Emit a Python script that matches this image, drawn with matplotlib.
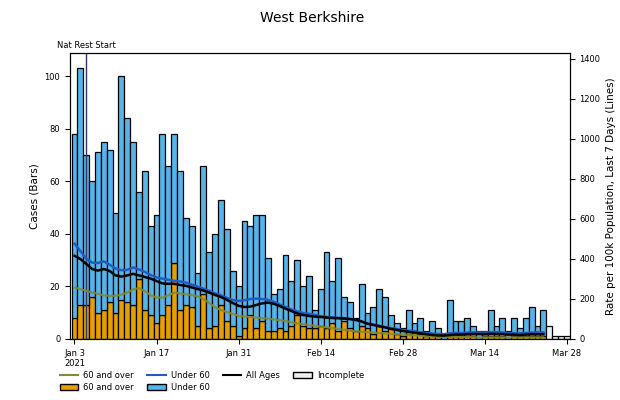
import numpy as np
import matplotlib.pyplot as plt
import matplotlib.dates as mdates
from matplotlib.patches import Patch
from matplotlib.lines import Line2D

# daily cases, Jan 3 - Mar 28 2021 (last 4 days incomplete)
days = np.arange('2021-01-03', '2021-03-29', dtype='datetime64[D]')
cases_total = [78, 103, 70, 60, 71, 75, 72, 48, 100, 84, 75, 56, 64, 43, 47,
               78, 66, 78, 64, 46, 43, 25, 66, 33, 40, 53, 42, 26, 20, 45,
               43, 47, 47, 31, 17, 19, 32, 22, 30, 20, 24, 11, 19, 33, 22,
               31, 16, 14, 8, 21, 10, 12, 19, 16, 9, 6, 4, 11, 6, 8,
               3, 7, 4, 2, 15, 7, 7, 8, 5, 3, 3, 11, 5, 8, 3,
               8, 4, 8, 12, 5, 11, 5, 1, 1, 1]
cases_over60 = [8, 13, 13, 16, 10, 11, 14, 10, 15, 14, 13, 23, 11, 9, 6,
                9, 13, 29, 11, 13, 12, 5, 17, 4, 5, 13, 7, 5, 1, 4,
                9, 4, 7, 3, 3, 4, 3, 5, 9, 5, 4, 4, 5, 4, 6,
                3, 7, 4, 3, 5, 4, 2, 5, 3, 4, 2, 1, 2, 3, 2,
                1, 2, 1, 0, 1, 1, 1, 1, 1, 0, 1, 1, 1, 1, 0,
                1, 1, 1, 1, 1, 1]
n_complete = len(cases_over60)

# 7 day rate per 100k (right axis)
rate_all = [416, 400, 376, 350, 342, 350, 340, 318, 312, 318, 326, 318, 310, 302, 290,
            278, 276, 276, 270, 266, 258, 250, 242, 232, 220, 210, 196, 180, 166, 160,
            162, 170, 178, 182, 176, 165, 152, 140, 128, 120, 115, 112, 110, 107, 105,
            104, 102, 100, 96, 88, 76, 70, 64, 58, 50, 45, 40, 36, 32, 28,
            24, 20, 18, 17, 20, 22, 22, 24, 25, 25, 24, 26, 25, 25, 22,
            22, 20, 22, 24, 24, 24]
rate_under60 = [477, 440, 402, 382, 380, 388, 372, 352, 344, 346, 358, 348, 336, 320, 308,
                302, 296, 291, 288, 282, 272, 262, 252, 240, 228, 218, 206, 195, 190, 194,
                200, 202, 200, 196, 186, 172, 160, 148, 138, 130, 126, 120, 114, 110, 108,
                106, 104, 100, 94, 86, 78, 72, 66, 60, 54, 50, 45, 41, 37, 33,
                30, 27, 25, 24, 28, 30, 30, 32, 33, 33, 32, 34, 33, 33, 30,
                30, 28, 30, 32, 33, 33]
rate_over60 = [257, 250, 241, 232, 226, 218, 216, 216, 222, 232, 248, 254, 240, 218, 208,
               207, 218, 232, 228, 224, 220, 214, 200, 180, 158, 145, 135, 125, 116, 112,
               110, 107, 104, 102, 98, 94, 90, 84, 78, 74, 70, 66, 62, 58, 54,
               50, 46, 42, 38, 36, 34, 32, 30, 28, 26, 24, 22, 20, 18, 16,
               14, 12, 10, 10, 10, 10, 10, 10, 9, 8, 8, 8, 8, 8, 8,
               8, 8, 8, 8, 8, 8]

rest_start = np.datetime64('2021-01-05')
tick_dates = np.arange('2021-01-03', '2021-03-29', 14, dtype='datetime64[D]')
tick_labels = ['Jan 3\n2021', 'Jan 17', 'Jan 31', 'Feb 14', 'Feb 28', 'Mar 14', 'Mar 28']

c_old = '#E69F00'
c_young = '#56B4E9'
c_old_line = '#85892f'
c_young_line = '#1f5cc4'

#%% plotting
fig = plt.figure(figsize=(6.2, 4), dpi=100)
ax = fig.add_axes([0.113, 0.1525, 0.806, 0.715])

tot = np.array(cases_total)
old = np.array(cases_over60)
young = tot[:n_complete] - old

ax.bar(days[:n_complete], old, width=1, color=c_old, edgecolor='black', linewidth=0.9)
ax.bar(days[:n_complete], young, width=1, bottom=old, color=c_young,
       edgecolor='black', linewidth=0.9)
ax.bar(days[n_complete:], tot[n_complete:], width=1, color='#eeeeee',
       edgecolor='black', linewidth=0.9)

ax.axvline(rest_start, color='#333366', linewidth=1)
ax.text(rest_start, 1.012, 'Nat Rest Start', transform=ax.get_xaxis_transform(),
        ha='center', va='bottom', fontsize=6)

ax.set_ylim(0, 108.8)
ax.set_xlim(days[0] - np.timedelta64(18, 'h'), days[-1] + np.timedelta64(12, 'h'))
ax.set_yticks([0, 20, 40, 60, 80, 100])
ax.set_xticks(tick_dates)
ax.set_xticklabels(tick_labels)
ax.tick_params(labelsize=6)
ax.set_ylabel('Cases (Bars)', fontsize=7.5)

ax2 = ax.twinx()
ax2.plot(days[:n_complete], rate_over60, color=c_old_line, linewidth=1.6, alpha=0.9)
ax2.plot(days[:n_complete], rate_under60, color=c_young_line, linewidth=1.8)
ax2.plot(days[:n_complete], rate_all, color='black', linewidth=1.8)
ax2.set_ylim(0, 1430)
ax2.set_yticks(range(0, 1401, 200))
ax2.tick_params(labelsize=6)
ax2.set_ylabel('Rate per 100k Population, Last 7 Days (Lines)', fontsize=7.5)

fig.text(0.503, 0.955, 'West Berkshire', ha='center', va='center', fontsize=10)

handles = [Line2D([], [], color=c_old_line, lw=1.5),
           Patch(facecolor=c_old, edgecolor='black'),
           Line2D([], [], color=c_young_line, lw=1.5),
           Patch(facecolor=c_young, edgecolor='black'),
           Line2D([], [], color='black', lw=1.5),
           Patch(facecolor='#eeeeee', edgecolor='black')]
labels = ['60 and over', '60 and over', 'Under 60', 'Under 60', 'All Ages', 'Incomplete']
ax.legend(handles, labels, ncol=4, loc='upper left', bbox_to_anchor=(-0.035, -0.085),
          frameon=False, fontsize=6, handlelength=2.2, columnspacing=1.6,
          handletextpad=0.6, labelspacing=0.4)

plt.savefig('out.png', dpi=100)
